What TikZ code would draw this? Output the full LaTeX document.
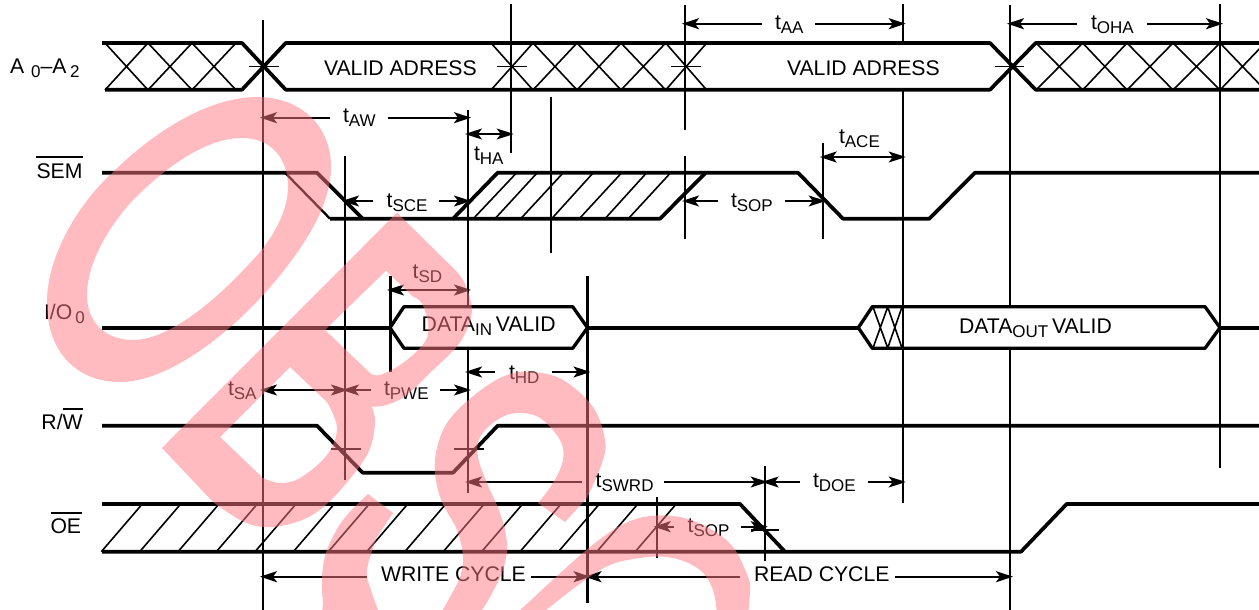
\documentclass[tikz,border=0pt]{standalone}
\usepackage{fontspec}
\setmainfont{Liberation Sans}
\usetikzlibrary{arrows.meta}
\definecolor{wm}{rgb}{1,0.47,0.5}
\newcommand\subt[1]{\raisebox{-4pt}{\fontsize{17}{17}\selectfont #1}}
\newcommand\timing[9]{%
  \node[lab,anchor=base west] (#1) at (#2,#3) {t\subt{#4}};
  \coordinate (#1L) at (#6,#9); \coordinate (#1R) at (#7,#9);
  \draw[dimline] (#1L) -- (#5 |- #1L);
  \draw[dimline] (#1R) -- (#8 |- #1R);}
\tikzset{
  lab/.style={inner sep=0pt,outer sep=0pt,font=\fontsize{21.2}{24}\selectfont},
  sig/.style={line width=3.7pt,line join=round},
  sigthin/.style={line width=2.3pt},
  hex/.style={line width=3.3pt,line join=round,fill=white},
  hatchline/.style={line width=1.6pt},
  vline/.style={line width=1.9pt},
  vthick/.style={line width=3pt},
  tick/.style={line width=1.6pt},
  dimline/.style={line width=1.8pt,-{Stealth[length=17pt,width=11pt,inset=4pt]},shorten >=-3pt},
  dimboth/.style={line width=1.8pt,{Stealth[length=17pt,width=11pt,inset=4pt]}-{Stealth[length=17pt,width=11pt,inset=4pt]},shorten >=-3pt,shorten <=-3pt}
}
\begin{document}
\begin{tikzpicture}[x=1pt,y=-1pt]
\useasboundingbox (0,0) rectangle (1259,610);
\clip (0,0) rectangle (1259,610);
\fill[white] (0,0) rectangle (1259,610);
% time columns
\foreach \n/\x in {c263/263,c345/345,c390/390,c468/468,c511/510.7,c551/550.7,c588/587.5,c657/656.7,c685/685,c765/764.7,c823/822.7,c903/902.7,c1010/1010,c1220/1220}
  \coordinate (\n) at (\x,0);
% ---- address row
\draw[hatchline] (105,43)--(148,90) (148,43)--(192,90) (192,43)--(236,90)
  (105,90)--(148,43) (148,90)--(192,43) (192,90)--(236,43);
\draw[hatchline] (491,43)--(533,90) (533,43)--(577,90) (577,43)--(621,90) (621,43)--(665.7,90) (665.7,43)--(706.7,90)
  (491,90)--(533,43) (533,90)--(577,43) (577,90)--(621,43) (621,90)--(665.7,43) (665.7,90)--(706.7,43);
\draw[hatchline] (1036,43)--(1082.7,90) (1082.7,43)--(1127,90) (1127,43)--(1173,90) (1173,43)--(1220,90) (1220,43)--(1265,90)
  (1036,90)--(1082.7,43) (1082.7,90)--(1127,43) (1127,90)--(1173,43) (1173,90)--(1220,43) (1220,90)--(1265,43);
\draw[sig] (102,43)--(242,43)--(285.7,89.7)--(990,89.7)--(1035.7,43)--(1259,43);
\draw[sig] (105,89.7)--(242,89.7)--(285.7,43)--(990,43)--(1035.7,89.7)--(1259,89.7);
\draw[tick] (249,66.5)--(279,66.5) (497,66.5)--(527,66.5) (671,66.5)--(701,66.5) (995,66.5)--(1024,66.5);
% ---- SEM row
\draw[hatchline] (473.3,218.7)--(516.7,172.7) (495,218.7)--(537.3,172.7) (520.7,218.7)--(563.3,172.7) (551.7,218.7)--(593.3,172.7)
  (579.3,218.7)--(621.7,172.7) (605,218.7)--(646.7,172.7) (628.3,218.7)--(670.7,172.7);
\draw[sig] (102,172.7)--(317,172.7)--(362.7,218.7);
\draw[sigthin] (285,172.7)--(330,218.7);
\draw[sig] (330,218.7)--(453,218.7)--(497.7,172.7)--(798,172.7)--(843,218.7)--(929.3,218.7)--(975,172.7)--(1259,172.7);
\draw[sig] (453,218.7)--(660,218.7)--(705.7,172.7);
% ---- I/O row
\draw[sig] (102,327.7)--(390,327.7) (587.5,327.7)--(858.3,327.7) (1220,327.7)--(1259,327.7);
\draw[hex] (390,327.7)--(404,306.7)--(572.7,306.7)--(587.5,327.7)--(572.7,348.3)--(404,348.3)--cycle;
\draw[hex] (858.3,327.7)--(872.3,306.7)--(1205,306.7)--(1220,327.7)--(1205,348.3)--(872.3,348.3)--cycle;
\draw[hatchline] (873,307)--(887.7,348) (887.7,307)--(873,348) (887.7,307)--(902,348) (902,307)--(887.7,348);
% ---- R/W row
\draw[sig] (102,425.7)--(317,425.7)--(362.7,472.7)--(453,472.7)--(497.7,425.7)--(1259,425.7);
\draw[tick] (331,449)--(361,449) (454.3,449)--(484,449);
% ---- OE row
\foreach \t in {142.3,180.7,219,257.3,296,334.3,369.3,407.7,445.8,484.2,522.6,561,599.4,637.8,676.2}
  \draw[hatchline] (\t,504) -- ({\t-41},551.7);
\draw[sig] (102,504)--(740,504)--(785,551.7);
\draw[sig] (102,551.7)--(1021,551.7)--(1066.7,504)--(1259,504);
\draw[tick] (751,530)--(779,530);
% ---- vertical markers
\draw[vline] (c263 |- 0,20)--(c263 |- 0,610);
\draw[vline] (c345 |- 0,156)--(c345 |- 0,480);
\draw[vthick] (c390 |- 0,276)--(c390 |- 0,372);
\draw[vline] (c468 |- 0,110)--(c468 |- 0,306) (c468 |- 0,349)--(c468 |- 0,493);
\draw[vline] (c511 |- 0,4)--(c511 |- 0,152.7);
\draw[vline] (c551 |- 0,97)--(c551 |- 0,252.7);
\draw[vthick] (c588 |- 0,276)--(c588 |- 0,603);
\draw[vline] (c657 |- 0,497)--(c657 |- 0,557.7);
\draw[vline] (c685 |- 0,5)--(c685 |- 0,129.7) (c685 |- 0,156)--(c685 |- 0,239);
\draw[vline] (c765 |- 0,466)--(c765 |- 0,560.7);
\draw[vline] (c823 |- 0,143)--(c823 |- 0,239);
\draw[vline,line width=2.4pt] (c903 |- 0,4)--(c903 |- 0,43);
\draw[vline] (c903 |- 0,90)--(c903 |- 0,503);
\draw[vline] (c1010 |- 0,5)--(c1010 |- 0,306) (c1010 |- 0,349)--(c1010 |- 0,610);
\draw[vline] (c1220 |- 0,4)--(c1220 |- 0,467.7);
% ---- row labels
\node[lab,anchor=base west] (lA) at (10,74) {A\kern7pt\raisebox{-4pt}{\fontsize{17}{17}\selectfont 0}–A\kern3.5pt\raisebox{-4pt}{\fontsize{17}{17}\selectfont 2}};
\node[lab,anchor=base west] (lSEM) at (36.5,178.7) {SEM};
\draw[tick] (36,156.7)--(83,156.7);
\node[lab,anchor=base west] (lIO) at (44,319) {I/O\kern3pt\raisebox{-4pt}{\fontsize{17}{17}\selectfont 0}};
\node[lab,anchor=base west] (lRW) at (41.5,429) {R/W};
\draw[tick] (62.7,409)--(82.7,409);
\node[lab,anchor=base west] (lOE) at (50.5,533.5) {OE};
\draw[tick] (51,513)--(82,513);
% ---- texts in rows
\node[lab,anchor=base west] (va1) at (324,75.5) {VALID ADRESS};
\node[lab,anchor=base west] (va2) at (787,75.5) {VALID ADRESS};
\node[lab,anchor=base west] (din) at (421.7,331) {DATA\subt{IN}\kern-2pt{} VALID};
\node[lab,anchor=base west] (dout) at (959,333.3) {DATA\subt{OUT}\kern-2pt{} VALID};
% ---- timing dimensions
\timing{tAA}{775}{30}{AA}{c685}{762}{815}{c903}{23.7}
\timing{tOHA}{1091}{30}{OHA}{c1010}{1077}{1146.7}{c1220}{23.7}
\timing{tAW}{343}{122}{AW}{c263}{329.7}{388}{c468}{117.7}
\timing{tSCE}{386.7}{207}{SCE}{c345}{372.7}{439}{c468}{201}
\timing{tSOP}{731}{207}{SOP}{c685}{717.7}{785}{c823}{201}
\timing{tPWE}{384}{395}{PWE}{c345}{371}{440}{c468}{390}
\timing{tHD}{509}{379}{HD}{c468}{495}{552.3}{c588}{372}
\timing{tSWRD}{595.7}{487}{SWRD}{c468}{581.7}{664.3}{c765}{482}
\timing{tDOE}{813}{487}{DOE}{c765}{800}{868}{c903}{482}
\timing{tSOPb}{687.7}{532}{SOP}{c657}{674}{741}{c765}{526.7}
% label-less spans
\node[lab,anchor=base west] (tHA) at (474,160) {t\subt{HA}};
\coordinate (yHA) at (0,134);
\draw[dimboth] (c468 |- yHA)--(c511 |- yHA);
\node[lab,anchor=base west] (tACE) at (839,143) {t\subt{ACE}};
\coordinate (yACE) at (0,157);
\draw[dimboth] (c823 |- yACE)--(c903 |- yACE);
\node[lab,anchor=base west] (tSD) at (412.7,278) {t\subt{SD}};
\coordinate (ySD) at (0,290);
\draw[dimboth] (c390 |- ySD)--(c468 |- ySD);
\node[lab,anchor=base west] (tSA) at (228,395) {t\subt{SA}};
\coordinate (ySA) at (0,390);
\draw[dimboth] (c263 |- ySA)--(c345 |- ySA);
% cycles
\node[lab,anchor=base west] (wc) at (381,581.7) {WRITE CYCLE};
\node[lab,anchor=base west] (rc) at (754,581.7) {READ CYCLE};
\coordinate (wcL) at (366.7,576.7); \coordinate (wcR) at (531,576.7);
\coordinate (rcL) at (740,576.7); \coordinate (rcR) at (895,576.7);
\draw[dimline] (wcL)--(c263 |- wcL);
\draw[dimline] (wcR)--(c588 |- wcR);
\draw[dimline] (rcL)--(c588 |- rcL);
\draw[dimline] (rcR)--(c1010 |- rcR);
% ---- watermark
\begin{scope}[fill opacity=0.5]
 % O
 \fill[wm,even odd rule]
   (257,97) .. controls (300,97) and (331,125) .. (331,167)
   .. controls (331,205) and (305,245) .. (277,279)
   .. controls (235,330) and (170,382) .. (120,382)
   .. controls (75,382) and (46,350) .. (47,300)
   .. controls (48,255) and (78,205) .. (110,175)
   .. controls (155,130) and (210,97) .. (257,97) -- cycle
   (242,138) .. controls (270,138) and (288,157) .. (288,187)
   .. controls (288,215) and (268,245) .. (250,263)
   .. controls (218,298) and (170,340) .. (133,340)
   .. controls (105,340) and (87,322) .. (87,295)
   .. controls (87,262) and (110,225) .. (133,200)
   .. controls (165,168) and (205,138) .. (242,138) -- cycle;
 % B
 \fill[wm,even odd rule]
   (162,448)--(397,212.7)--plot[smooth,tension=0.6] coordinates {(446.7,261.7)(463,280)(471.7,306.7)(468,326.7)(456.7,346.7)(433,370)(406.7,395)(386.7,405)(371.7,406.7)}
   --plot[smooth,tension=0.6] coordinates {(371.7,406.7)(375,423)(368,453)(343,487)(317,512)(290,524)(263,527)(240,520)(213,502)}
   --cycle
   (386,270.7)--(325,330)--plot[smooth,tension=0.6] coordinates {(370,373)(380,375)(403,363)(425,341.7)(428,323)(421.7,303)(413,296.7)}--cycle
   (220,437)--(290,367)--plot[smooth,tension=0.6] coordinates {(327,402)(337,428)(327,455)(300,478)(280,483)(263,478)}--cycle;
 % S
 \fill[wm]
   (538,503)--(565,522)--plot[smooth,tension=0.6] coordinates {(587,498)(602,463)(605,440)(593,407)(563,380)(533,372)(507,375)(477,393)(447,423)(435,460)(440,497)(457,530)(463,557)(460,577)(450,597)(440,615)}
   --(480,615)--plot[smooth,tension=0.6] coordinates {(482,610)(490,597)(503,570)(507,543)(500,513)(487,483)(478,457)(480,437)(497,420)(517,413)(540,418)(560,440)(563,460)(553,483)(538,503)}--cycle;
 \fill[wm]
   (368,494)--(393,513)--plot[smooth,tension=0.6] coordinates {(377,537)(367,570)(372,593)(380,615)}
   --(322,615)--plot[smooth,tension=0.6] coordinates {(323,603)(322,577)(327,550)(343,520)(368,494)}--cycle;
 % second S
 \fill[wm]
   plot[smooth,tension=0.6] coordinates {(515,615)(590,547)(633,520)(673,516)(707,527)(733,547)(748,577)(750,590)(748,615)}
   --plot[smooth,tension=0.6] coordinates {(717,615)(713,590)(700,570)(673,558)(640,558)(600,570)(540,615)}--cycle;
\end{scope}
\end{tikzpicture}
\end{document}
